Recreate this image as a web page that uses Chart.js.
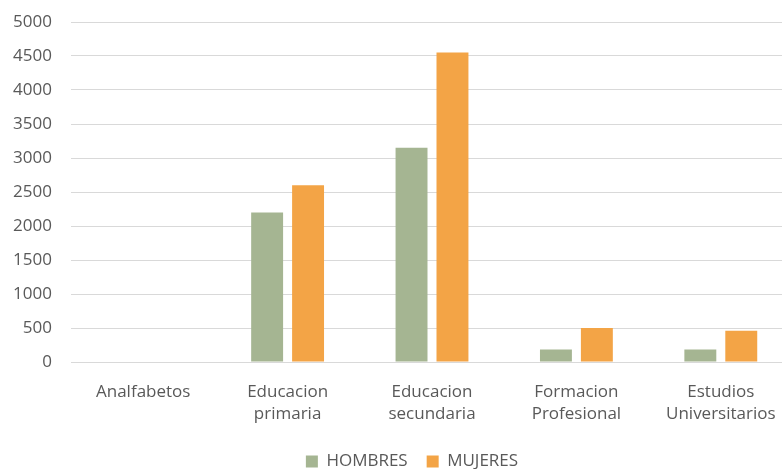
<!DOCTYPE html>
<html>
<head>
<meta charset="utf-8">
<script src="https://cdn.jsdelivr.net/npm/chart.js@4/dist/chart.umd.min.js"></script>
<style>
  html, body { margin: 0; padding: 0; background: #fff; overflow: hidden; }
  #wrap { width: 824px; height: 469px; position: relative; }
</style>
</head>
<body>
<div id="wrap"><canvas id="c"></canvas></div>
<script>
const categories = [["Analfabetos"], ["Educacion", "primaria"], ["Educacion", "secundaria"], ["Formacion", "Profesional"], ["Estudios", "Universitarios"]];
const hombres = [0, 2200, 3150, 185, 185];
const mujeres = [0, 2600, 4550, 500, 460];
const seriesNames = ["HOMBRES", "MUJERES"];

const FONT = "'Open Sans', sans-serif";
const TXT = "#595959";

const legendShift = {
  id: "legendShift",
  afterLayout(chart) { if (chart.legend) chart.legend.left += 31; }
};

new Chart(document.getElementById("c"), {
  type: "bar",
  data: {
    labels: categories,
    datasets: [
      { label: seriesNames[0], data: hombres, backgroundColor: "#a5b592", categoryPercentage: 0.567, barPercentage: 0.78 },
      { label: seriesNames[1], data: mujeres, backgroundColor: "#f3a446", categoryPercentage: 0.567, barPercentage: 0.78 }
    ]
  },
  plugins: [legendShift],
  options: {
    responsive: true,
    maintainAspectRatio: false,
    animation: false,
    layout: { padding: { top: 22, right: 31, left: 0, bottom: -11 } },
    plugins: {
      tooltip: { enabled: false },
      legend: {
        position: "bottom",
        labels: {
          boxWidth: 12, boxHeight: 12, padding: 19,
          color: TXT,
          font: { family: FONT, size: 17 }
        }
      }
    },
    scales: {
      x: {
        afterFit: (s) => { s.height = 72; },
        grid: { display: false },
        border: { display: false },
        ticks: { color: TXT, font: { family: FONT, size: 17, lineHeight: 1.25 }, padding: 12, maxRotation: 0, autoSkip: false }
      },
      y: {
        min: 0, max: 5000,
        afterFit: (s) => { s.width = 71; s.paddingTop = 0; s.paddingBottom = 0; },
        grid: { color: "#d9d9d9", drawTicks: false, lineWidth: 1 },
        border: { display: false },
        ticks: { stepSize: 500, color: TXT, font: { family: FONT, size: 17 }, padding: 19, callback: (v) => String(v) }
      }
    }
  }
});
</script>
</body>
</html>
